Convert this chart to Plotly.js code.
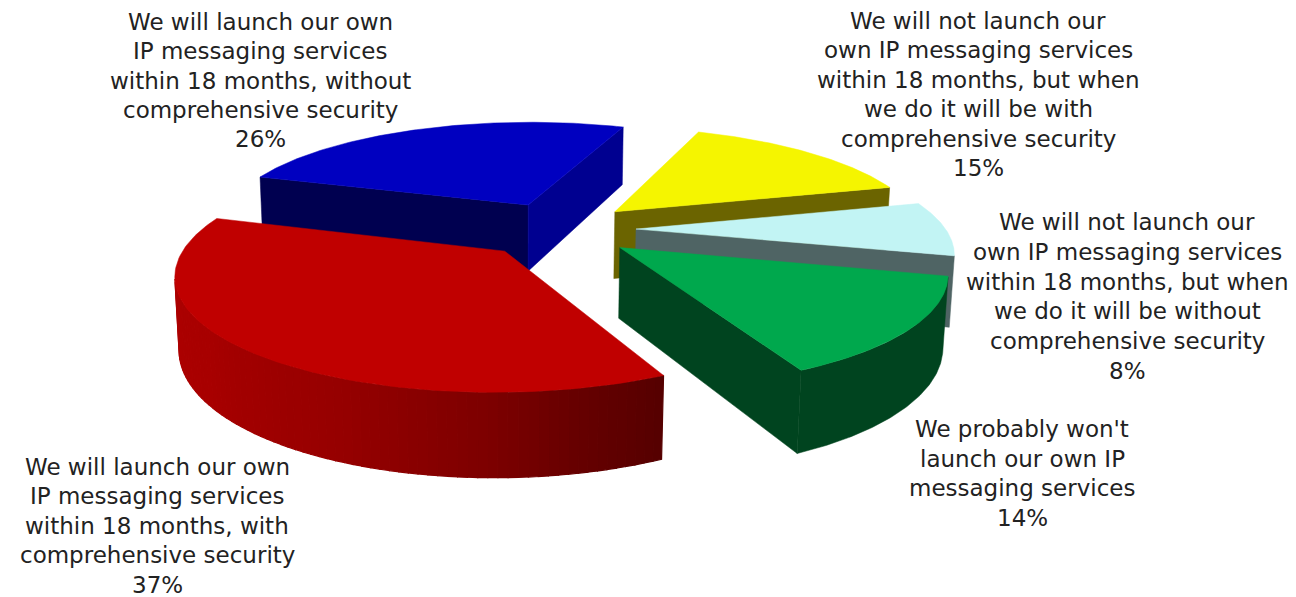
<!DOCTYPE html>
<html><head><meta charset="utf-8"><script src="https://cdn.plot.ly/plotly-3.0.1.min.js"></script>
<style>html,body{margin:0;padding:0;background:#fff}#chart{width:1296px;height:597px}</style></head>
<body><div id="chart"></div>
<script>
// Share of respondents per answer, clockwise from the blue slice.
const sliceLabels = [
  "We will launch our own<br>IP messaging services<br>within 18 months, without<br>comprehensive security",
  "We will not launch our<br>own IP messaging services<br>within 18 months, but when<br>we do it will be with<br>comprehensive security",
  "We will not launch our<br>own IP messaging services<br>within 18 months, but when<br>we do it will be without<br>comprehensive security",
  "We probably won't<br>launch our own IP<br>messaging services",
  "We will launch our own<br>IP messaging services<br>within 18 months, with<br>comprehensive security"
];
const slicePercents = [26, 15, 8, 14, 37];

const topColors   = ["#0000c0", "#f5f500", "#c2f4f4", "#00a84d", "#c00000"];
const startColors = ["#000050", "#6b6400", "#4f6464", "#00441f", "#5a0000"];
const endColors   = ["#000090", "#6b6400", "#4f6464", "#00441f", "#5a0000"];
const wallColors  = ["#000090", "#6b6400", "#4f6464", "#00441f", null];

// Where each label block sits on the page: centre x, first line y, line pitch.
const labelX = [260, 978, 1127, 1022, 157];
const labelTop = [22, 21, 222, 429, 467];
const labelPitch = [29.3, 29.4, 29.8, 29.7, 29.4];

// Perspective camera: maps pie space (u, v, z) onto page pixels.
const cam = {cx: 561.5, cy: 240.95, ax: 323.64, bx: 78.43, ay: -4.76, by: -65.11,
             p: 0.01504, q: 0.18666, zx: 6.108, zy: 73.565, zw: 0.011682};
const firstAngle = -1.18806;
// How far each slice is pulled out of the pie.
const pull = [[-0.08315, 0.35357], [0.20015, 0.26389], [0.24902, 0.09134], [0.1768, -0.07331], [-0.18352, -0.07688]];

function project(i, r, th, z) {
  const u = r * Math.sin(th) + pull[i][0], v = r * Math.cos(th) + pull[i][1];
  const w = 1 + cam.p * u + cam.q * v + cam.zw * z;
  return [(cam.cx + cam.ax * u + cam.bx * v + cam.zx * z) / w,
          (cam.cy + cam.ay * u + cam.by * v + cam.zy * z) / w];
}
function signedArea(q) {
  let s = 0;
  for (let k = 0; k < q.length; k++) {
    const a = q[k], b = q[(k + 1) % q.length];
    s += a[0] * b[1] - b[0] * a[1];
  }
  return s;
}

const traces = [];
function addPolygon(pts, color, lineWidth) {
  traces.push({
    type: 'scatter', mode: 'lines',
    x: pts.map(a => a[0]).concat(pts[0][0]),
    y: pts.map(a => a[1]).concat(pts[0][1]),
    fill: 'toself', fillcolor: color,
    line: {color: color, width: lineWidth},
    hoverinfo: 'skip', showlegend: false
  });
}
// Red wall shading: dark at the slice's right end, lighter toward the left.
function shadedRed(f) {
  const stops = [[0, 85], [0.1, 102], [0.2, 125], [0.37, 150], [0.6, 168], [1, 178]];
  for (let k = 1; k < stops.length; k++) {
    if (f <= stops[k][0]) {
      const a = stops[k - 1], b = stops[k];
      return 'rgb(' + Math.round(a[1] + (b[1] - a[1]) * (f - a[0]) / (b[0] - a[0])) + ',0,0)';
    }
  }
  return 'rgb(178,0,0)';
}

let angle = firstAngle;
slicePercents.forEach((pct, i) => {
  const s = angle, e = angle + pct / 100 * 2 * Math.PI;
  angle = e;
  const apexTop = project(i, 0, 0, 0), apexBot = project(i, 0, 0, 1);

  const startFace = [apexTop, project(i, 1, s, 0), project(i, 1, s, 1), apexBot];
  if (signedArea(startFace) < 0) addPolygon(startFace, startColors[i], 0.5);
  const endFace = [project(i, 1, e, 0), apexTop, apexBot, project(i, 1, e, 1)];
  if (signedArea(endFace) < 0) addPolygon(endFace, endColors[i], 0.5);

  // Outer wall: only the stretch that faces the viewer.
  const steps = 90;
  const visible = [];
  for (let n = 0; n < steps; n++) {
    const t0 = s + (e - s) * n / steps, t1 = s + (e - s) * (n + 1) / steps;
    const quad = [project(i, 1, t0, 0), project(i, 1, t1, 0), project(i, 1, t1, 1), project(i, 1, t0, 1)];
    if (signedArea(quad) < 0) visible.push({t0, t1, quad, f: (n + 0.5) / steps});
  }
  if (wallColors[i]) {
    if (visible.length) {
      const upper = visible.map(q => q.quad[0]).concat([visible[visible.length - 1].quad[1]]);
      const lower = visible.map(q => q.quad[3]).concat([visible[visible.length - 1].quad[2]]).reverse();
      addPolygon(upper.concat(lower), wallColors[i], 0.5);
    }
  } else {
    visible.forEach(q => addPolygon(q.quad, shadedRed(q.f), 1.2));
  }

  const top = [apexTop];
  for (let n = 0; n <= 120; n++) top.push(project(i, 1, s + (e - s) * n / 120, 0));
  addPolygon(top, topColors[i], 0.5);
});

// One annotation per text line, so the line pitch can follow the layout exactly.
const annotations = [];
sliceLabels.forEach((txt, i) => {
  txt.split('<br>').concat(slicePercents[i] + '%').forEach((line, k) => {
    annotations.push({
      x: labelX[i], y: labelTop[i] + k * labelPitch[i], xref: 'x', yref: 'y',
      xanchor: 'center', yanchor: 'middle', text: line, showarrow: false, align: 'center',
      font: {family: '"DejaVu Sans", sans-serif', size: 23, color: '#222222'}
    });
  });
});

Plotly.newPlot('chart', traces, {
  width: 1296, height: 597, margin: {l: 0, r: 0, t: 0, b: 0},
  paper_bgcolor: '#ffffff', plot_bgcolor: '#ffffff', showlegend: false,
  xaxis: {range: [0, 1296], visible: false, fixedrange: true},
  yaxis: {range: [597, 0], visible: false, fixedrange: true},
  annotations: annotations
}, {staticPlot: true});
</script></body></html>
